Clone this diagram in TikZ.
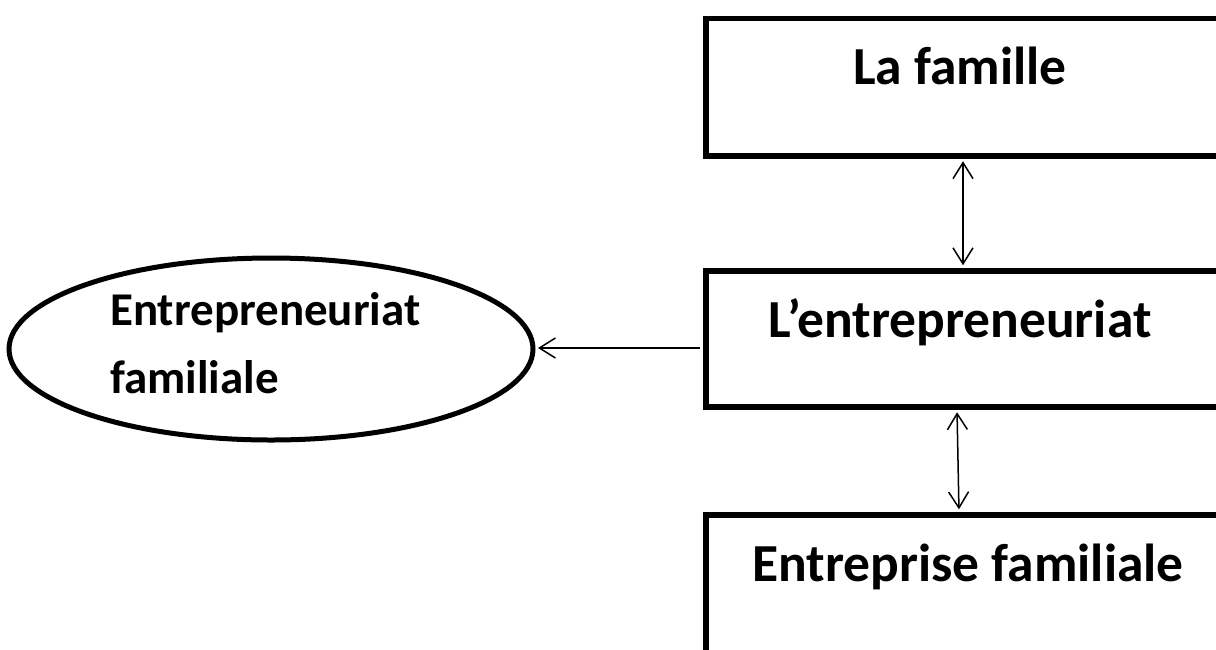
\documentclass[tikz,border=0pt]{standalone}
\usepackage{fontspec}
\setmainfont{Carlito}
\usetikzlibrary{arrows.meta,shapes.geometric}
\begin{document}
\begin{tikzpicture}[x=1pt,y=-1pt,
  boxstyle/.style={draw,line width=5.5pt,rectangle,inner sep=0,anchor=north west,minimum width=560pt},
  lbl/.style={font=\bfseries\fontsize{53.5}{64}\selectfont,inner sep=0,anchor=base},
  conn/.style={line width=1.5pt,{Straight Barb[length=16pt,width=20pt]}-{Straight Barb[length=16pt,width=20pt]},shorten >=2.75pt,shorten <=2.75pt},
  harrow/.style={line width=1.5pt,-{Straight Barb[length=16pt,width=20pt]},shorten <=2.75pt,shorten >=2.5pt}]
\clip (0,0) rectangle (1216,649);
\fill[white] (0,0) rectangle (1216,649);
% boxes
\node[boxstyle,minimum height=137.5pt] (top) at (703,15.5) {};
\node[boxstyle,minimum height=136pt] (mid) at (703,268) {};
\node[boxstyle,minimum height=200pt] (bot) at (703,512) {};
% ellipse
\node[draw,ellipse,line width=5pt,inner sep=0,minimum width=524pt,minimum height=182pt] (ell) at (271,349) {};
% labels
\node[lbl] (t1) at (960,84.5) {La famille};
\node[lbl] (t2) at (960,337) {L’entrepreneuriat};
\node[lbl] (t3) at (968,581) {Entreprise familiale};
\node[font=\bfseries\fontsize{47}{68}\selectfont,inner sep=0,anchor=base west,align=left] (t4) at (110,393) {Entrepreneuriat\\familiale};
% connectors
\coordinate (c1) at (963,0);
\coordinate (c3) at (957,0);
\coordinate (c4) at (959,0);
\coordinate (h) at (0,348);
\draw[conn] (top.south -| c1) -- (mid.north -| c1);
\draw[conn] (mid.south -| c3) -- (bot.north -| c4);
\draw[harrow] (mid.west |- h) -- (ell.east |- h);
\end{tikzpicture}
\end{document}
